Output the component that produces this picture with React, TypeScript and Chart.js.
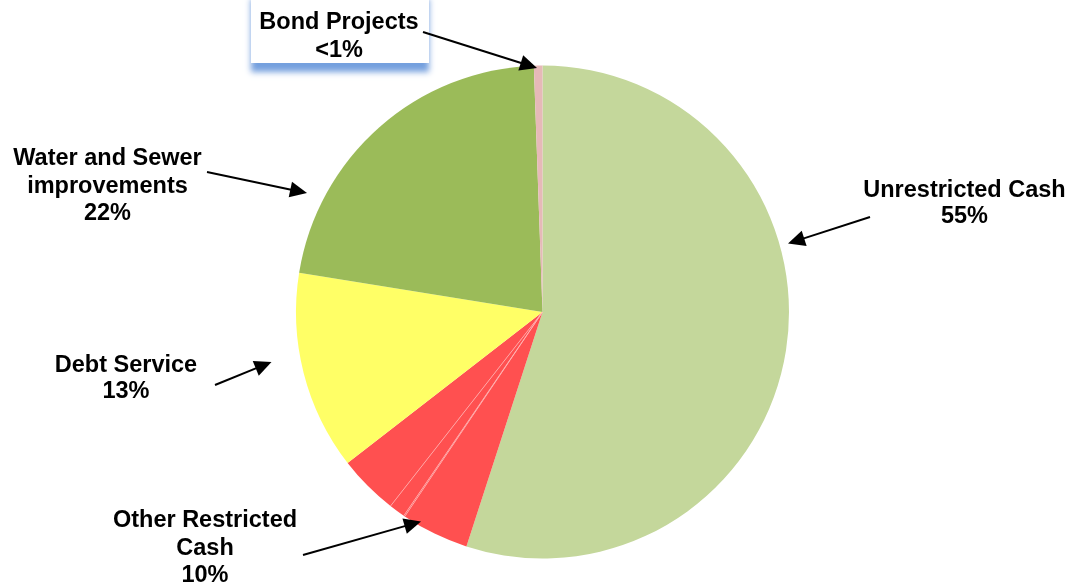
import React, { useEffect, useRef } from 'react';
import { Chart, registerables } from 'chart.js';

Chart.register(...registerables);

// ---- Data ----
const categories = [
  'Unrestricted Cash',
  'Other Restricted Cash (a)',
  'Other Restricted Cash (b)',
  'Other Restricted Cash (c)',
  'Other Restricted Cash (d)',
  'Debt Service',
  'Water and Sewer improvements',
  'Bond Projects',
];
const values = [55.0, 4.44, 0.08, 1.06, 3.94, 13.03, 21.9, 0.56];
const sliceColors = ['#C4D79B', '#FF5050', '#FF5050', '#FF5050', '#FF5050', '#FFFF66', '#9BBB59', '#E6B9B8'];
// slices whose start edge shows a faint separator line
const separatorSlices = [2, 3, 4];

// Callout texts
const unrestrictedText = ['Unrestricted Cash', '55%'];
const otherRestrictedText = ['Other Restricted', 'Cash', '10%'];
const debtText = ['Debt Service', '13%'];
const waterText = ['Water and Sewer', 'improvements', '22%'];
const bondText = ['Bond Projects', '<1%'];

// Callout layout (pixels on the canvas)
const callouts = [
  { lines: unrestrictedText, x: 964.5, y: 197, lh: 25.5, from: [870, 217], to: [788, 243.5] },
  { lines: otherRestrictedText, x: 205, y: 527, lh: 27.5, from: [303, 555], to: [421, 521.5] },
  { lines: debtText, x: 126, y: 372, lh: 25.5, from: [215, 385], to: [271.5, 362] },
  { lines: waterText, x: 107.5, y: 165, lh: 27.5, from: [207, 172], to: [307, 193] },
  { lines: bondText, x: 339, y: 29, lh: 28, from: [423, 32], to: [537, 68] },
];

const FONT = 'bold 23.5px "Liberation Sans", Arial, sans-serif';

function drawArrow(ctx: CanvasRenderingContext2D, from: number[], to: number[]) {
  const [x1, y1] = from;
  const [x2, y2] = to;
  const ang = Math.atan2(y2 - y1, x2 - x1);
  const headLen = 17;
  const headHalf = 8;
  const bx = x2 - Math.cos(ang) * headLen;
  const by = y2 - Math.sin(ang) * headLen;
  ctx.beginPath();
  ctx.moveTo(x1, y1);
  ctx.lineTo(bx + Math.cos(ang) * 2, by + Math.sin(ang) * 2);
  ctx.strokeStyle = '#000';
  ctx.lineWidth = 2;
  ctx.stroke();
  ctx.beginPath();
  ctx.moveTo(x2, y2);
  ctx.lineTo(bx + Math.sin(ang) * headHalf, by - Math.cos(ang) * headHalf);
  ctx.lineTo(bx - Math.sin(ang) * headHalf, by + Math.cos(ang) * headHalf);
  ctx.closePath();
  ctx.fillStyle = '#000';
  ctx.fill();
}

const calloutPlugin = {
  id: 'callouts',
  afterDatasetsDraw(chart: any) {
    const ctx: CanvasRenderingContext2D = chart.ctx;
    const meta = chart.getDatasetMeta(0);
    // faint separators inside the red group
    ctx.save();
    ctx.strokeStyle = 'rgba(255,185,185,0.85)';
    ctx.lineWidth = 0.8;
    separatorSlices.forEach((i) => {
      const arc: any = meta.data[i];
      if (!arc) return;
      const a = arc.startAngle;
      ctx.beginPath();
      ctx.moveTo(arc.x, arc.y);
      ctx.lineTo(arc.x + Math.cos(a) * arc.outerRadius, arc.y + Math.sin(a) * arc.outerRadius);
      ctx.stroke();
    });
    ctx.restore();

    // Bond Projects box with blue shadow
    ctx.save();
    ctx.shadowColor = 'rgba(110,155,220,0.95)';
    ctx.shadowBlur = 6;
    ctx.shadowOffsetX = 0;
    ctx.shadowOffsetY = 9;
    ctx.fillStyle = '#FFFFFF';
    ctx.fillRect(251, -10, 178, 73);
    ctx.restore();

    ctx.save();
    ctx.font = FONT;
    ctx.fillStyle = '#000';
    ctx.textAlign = 'center';
    ctx.textBaseline = 'alphabetic';
    callouts.forEach((c) => {
      c.lines.forEach((t, k) => ctx.fillText(t, c.x, c.y + k * c.lh));
      drawArrow(ctx, c.from, c.to);
    });
    ctx.restore();
  },
};

export default function App() {
  const ref = useRef<HTMLCanvasElement | null>(null);
  useEffect(() => {
    if (!ref.current) return;
    const chart = new Chart(ref.current, {
      type: 'pie',
      data: {
        labels: categories,
        datasets: [
          {
            data: values,
            backgroundColor: sliceColors,
            borderWidth: 0,
          },
        ],
      },
      options: {
        responsive: false,
        animation: false,
        layout: { padding: { left: 296, right: 285, top: 65, bottom: 25 } },
        plugins: {
          legend: { display: false },
          tooltip: { enabled: false },
          title: { display: false },
        },
      },
      plugins: [calloutPlugin],
    });
    return () => chart.destroy();
  }, []);
  return (
    <div style={{ position: 'fixed', left: 0, top: 0, width: 1074, height: 584, background: '#fff' }}>
      <canvas ref={ref} width={1074} height={584} style={{ width: 1074, height: 584, display: 'block' }} />
    </div>
  );
}
